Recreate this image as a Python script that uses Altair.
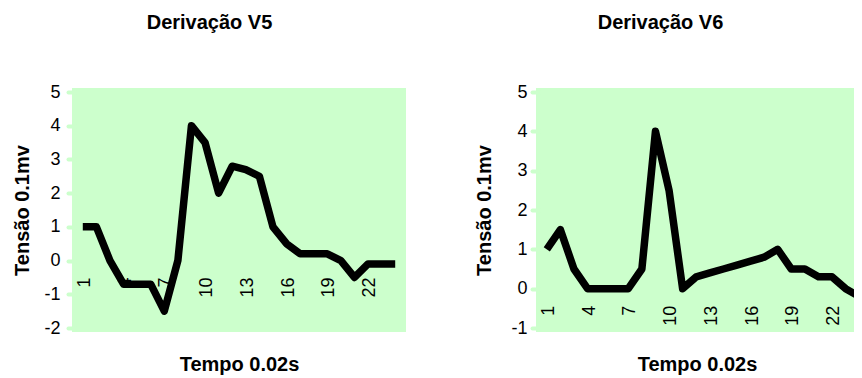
import altair as alt
import pandas as pd

# ---- data ----
categories = list(range(1, 25))
v5_values = [1, 1, 0, -0.7, -0.7, -0.7, -1.5, 0, 4, 3.5, 2, 2.8, 2.7, 2.5,
             1, 0.5, 0.2, 0.2, 0.2, 0, -0.5, -0.1, -0.1, -0.1]
v6_values = [1, 1.5, 0.5, 0, 0, 0, 0, 0.5, 4, 2.5, 0, 0.3, 0.4, 0.5,
             0.6, 0.7, 0.8, 1.0, 0.5, 0.5, 0.3, 0.3, 0, -0.2]
x_tick_labels = [1, 4, 7, 10, 13, 16, 19, 22]
panel_titles = ["Derivação V5", "Derivação V6"]
y_title = "Tensão 0.1mv"
x_title = "Tempo 0.02s"

FONT = "Liberation Sans"
GREEN = "#CCFFCC"
PLOT_W = 326
PLOT_H = 236


def title_font(**kw):
    return dict(titleFont=FONT, titleFontSize=20, titleFontWeight="bold",
                titleColor="black", **kw)


def panel(values, title, ydom, title_x, label_pad, ytitle_x, xtitle_x):
    df = pd.DataFrame({"c": categories, "v": values})
    lab = pd.DataFrame({"c": x_tick_labels, "t": [str(v) for v in x_tick_labels]})
    xs = alt.Scale(domain=[0.5, 24.5], nice=False, zero=False)
    ys = alt.Scale(domain=ydom, nice=False, zero=False)

    top_axis = alt.Axis(
        orient="top", title=title, labels=False, ticks=False, domain=False,
        grid=False, titleBaseline="alphabetic", titleY=-64, titleX=title_x,
        **title_font())
    bottom_axis = alt.Axis(
        orient="bottom", title=x_title, labels=False, ticks=False,
        domain=False, grid=False, titleBaseline="alphabetic", titleY=42,
        titleX=xtitle_x, **title_font())
    y_axis = alt.Axis(
        values=list(range(ydom[0], ydom[1] + 1)), title=y_title,
        grid=False, domain=False, tickColor=GREEN, tickSize=8, tickWidth=4,
        tickCap="round", labelPadding=label_pad, labelFont=FONT,
        labelFontSize=18, labelColor="black", labelExpr="'' + datum.value",
        labelOverlap=False, labelBound=False, labelFlush=False,
        titleBaseline="middle", titleX=ytitle_x, **title_font())

    labels = alt.Chart(lab).mark_text(
        angle=270, align="right", baseline="middle", dx=-17, dy=2,
        font=FONT, fontSize=18, color="black"
    ).encode(
        x=alt.X("c:Q", scale=xs, axis=top_axis),
        y=alt.Y(datum=0, scale=ys, axis=y_axis),
        text="t:N",
    )

    line = alt.Chart(df).mark_line(
        color="black", strokeWidth=7.5, strokeJoin="round", clip=True
    ).encode(
        x=alt.X("c:Q", scale=xs, axis=bottom_axis),
        y=alt.Y("v:Q", scale=ys, axis=y_axis),
    )

    return alt.layer(labels, line).resolve_axis(x="independent").properties(
        width=PLOT_W, height=PLOT_H)


left = panel(v5_values, panel_titles[0], [-2, 5], 133, 8, -54, 163)
right = panel(v6_values, panel_titles[1], [-1, 5], 120, 5, -56, 157)

chart = alt.hconcat(left, right, spacing=138, bounds="flush").properties(
    autosize=alt.AutoSizeParams(type="none"),
    padding={"left": 68, "top": 84, "right": 778, "bottom": 282},
    background="white",
).configure_view(fill=GREEN, stroke=GREEN, strokeWidth=8)

chart.save("out.html", embed_options={"renderer": "svg", "actions": False})
